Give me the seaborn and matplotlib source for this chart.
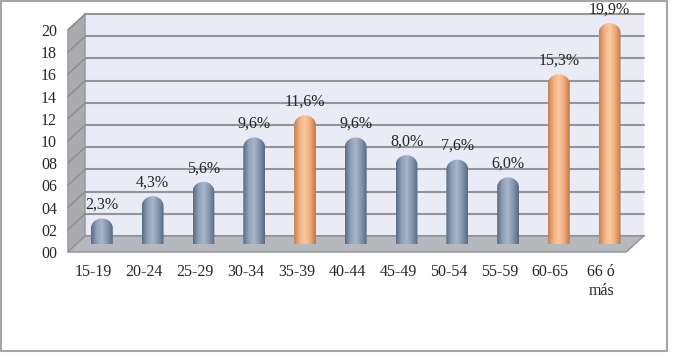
import numpy as np
import seaborn as sns
import matplotlib.pyplot as plt
from matplotlib.patches import Polygon, Rectangle
from matplotlib.colors import LinearSegmentedColormap
from matplotlib.transforms import ScaledTranslation

categorias = ["15-19", "20-24", "25-29", "30-34", "35-39", "40-44",
              "45-49", "50-54", "55-59", "60-65", "66 ó\nmás"]
valores = [2.3, 4.3, 5.6, 9.6, 11.6, 9.6, 8.0, 7.6, 6.0, 15.3, 19.9]
etiquetas = ["2,3%", "4,3%", "5,6%", "9,6%", "11,6%", "9,6%",
             "8,0%", "7,6%", "6,0%", "15,3%", "19,9%"]
destacado = [False, False, False, False, True, False,
             False, False, False, True, True]
yticks = list(range(0, 21, 2))
ytick_labels = ["%02d" % t for t in yticks]

AZUL = "#8397af"
NARANJA = "#f3b07f"
TAM = 11.5

sns.set_style("white")
plt.rcParams["font.family"] = ["Liberation Serif", "DejaVu Serif"]

fig = plt.figure(figsize=(6.79, 3.6), dpi=100)
ax = fig.add_axes([76.5 / 679, 116 / 360, 558.5 / 679, 222 / 360])

colores = [NARANJA if d else AZUL for d in destacado]
sns.barplot(x=categorias, y=valores, hue=categorias, palette=colores,
            legend=False, width=0.43, ax=ax, zorder=2)

# pseudo 3D: depth offset in data units
DX, DY = 0.17, 0.72
x0, x1 = -0.5, 10.5

# pared del fondo
ax.add_patch(Polygon([(x0 + DX, DY), (x1 + DX, DY), (x1 + DX, 20 + DY),
                      (x0 + DX, 20 + DY)], closed=True, facecolor="#e9ebf7",
                     edgecolor="none", zorder=0, clip_on=False))
# pared lateral
ax.add_patch(Polygon([(x0 - DX, -DY), (x0 + DX, DY), (x0 + DX, 20 + DY),
                      (x0 - DX, 20 - DY)], closed=True, facecolor="#a9abae",
                     edgecolor="#8f9194", lw=0.8, zorder=0.6, clip_on=False))
# suelo
ax.add_patch(Polygon([(x0 - DX, -DY), (x1 - DX, -DY), (x1 + DX, DY),
                      (x0 + DX, DY)], closed=True, facecolor="#b5b9be",
                     edgecolor="#8f9194", lw=1.0, zorder=0.7, clip_on=False))
for t in yticks:
    ax.plot([x0 + DX, x1 + DX], [t + DY, t + DY], color="#959595", lw=1.5,
            zorder=0.5, clip_on=False)
    ax.plot([x0 - DX, x0 + DX], [t - DY, t + DY], color="#8a8c8f", lw=1.0,
            zorder=0.65, clip_on=False)

# cilindros: degradado recortado con tapa redondeada
mapa_azul = LinearSegmentedColormap.from_list(
    "azul", ["#5a6b82", "#8fa1b8", "#a6b6ca", "#8294ac", "#596a80"])
mapa_naranja = LinearSegmentedColormap.from_list(
    "naranja", ["#c4824f", "#f2b083", "#fbcaa3", "#f0aa78", "#b97643"])
grad = np.linspace(0, 1, 64).reshape(1, -1)
px_x = 558.5 / 11
px_y = 222 / 20
for cont, d, lab in zip(ax.containers, destacado, etiquetas):
    rect = cont.patches[0]
    bx, bw, bh = rect.get_x(), rect.get_width(), rect.get_height()
    rx = bw / 2
    ry = rx * px_x / px_y * 0.9
    cx = bx + rx
    t = np.linspace(0, np.pi, 40)
    arco = np.column_stack([cx + rx * np.cos(t), bh - ry + ry * np.sin(t)])
    b = np.linspace(np.pi, 2 * np.pi, 20)
    fondo = np.column_stack([cx + rx * np.cos(b), 0.3 * ry * np.sin(b)])
    forma = Polygon(np.vstack([fondo, arco]), closed=True,
                    transform=ax.transData, facecolor="none",
                    edgecolor="none")
    ax.add_patch(forma)
    rect.set_facecolor("none")
    rect.set_edgecolor("none")
    im = ax.imshow(grad, cmap=mapa_naranja if d else mapa_azul,
                   extent=[bx, bx + bw, -ry, bh], aspect="auto", zorder=3)
    im.set_clip_path(forma)
    ax.bar_label(cont, labels=[lab], padding=4, fontsize=TAM, zorder=4)

ax.set_xlim(-0.5, 10.5)
ax.set_ylim(0, 20)

ax.set_yticks(yticks)
ax.set_yticklabels(ytick_labels, fontsize=TAM)
ax.tick_params(axis="y", length=0, pad=8)
ax.tick_params(axis="x", length=0, pad=9, labelsize=TAM)
sns.despine(ax=ax, left=True, bottom=True)
ax.set_xlabel("")
ax.set_ylabel("")
ax.grid(False)
ax.set_facecolor("none")

desplaza = ScaledTranslation(-0.085, -0.08, fig.dpi_scale_trans)
for lbl in ax.get_yticklabels() + ax.get_xticklabels():
    lbl.set_transform(lbl.get_transform() + desplaza)

fig.add_artist(Rectangle((1 / 679, 9 / 360), 666 / 679, 350 / 360,
                         transform=fig.transFigure, fill=False,
                         edgecolor="#a6a6a6", lw=1.5))

fig.savefig("out.png", dpi=100)
